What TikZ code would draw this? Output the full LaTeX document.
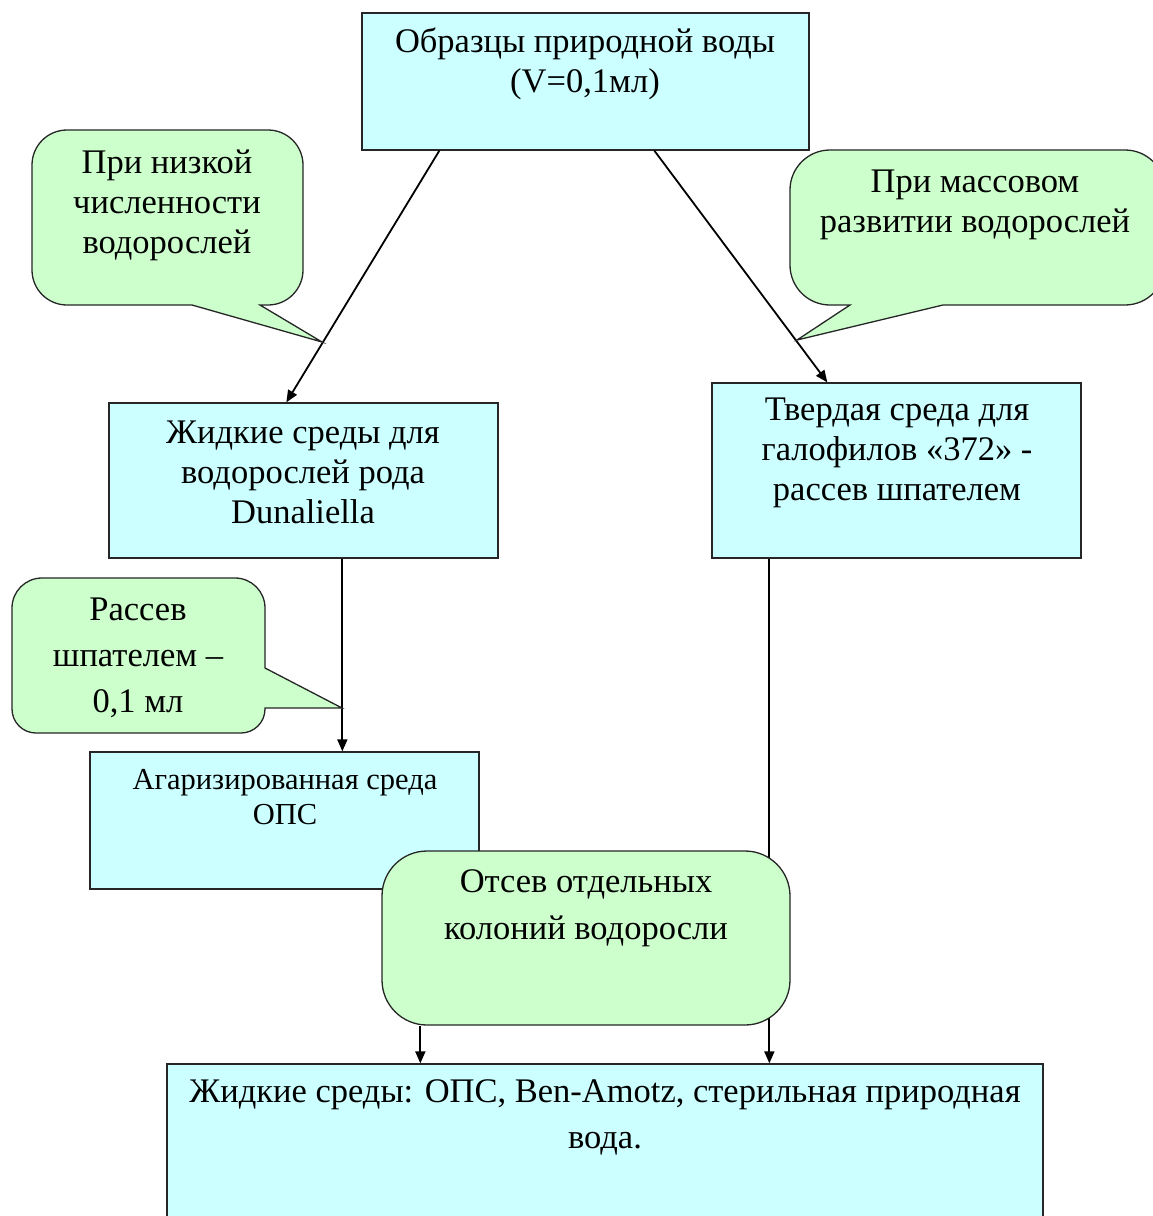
\documentclass[tikz,border=0pt]{standalone}
\usepackage{fontspec}
\setmainfont{Liberation Serif}
\usetikzlibrary{calc,arrows.meta}
\definecolor{boxcyan}{HTML}{CCFFFF}
\definecolor{calgreen}{HTML}{CCFFCC}
\begin{document}
\begin{tikzpicture}[x=1pt,y=-1pt,
  cbox/.style={draw=black!85, fill=boxcyan, line width=1.3pt, inner sep=0pt},
  callout/.style={draw=black!85, fill=calgreen, line width=1.3pt},
  txt/.style={align=center, inner sep=0pt, font=\fontsize{34.5}{40}\selectfont},
  conn/.style={line width=1.8pt, -{Triangle[length=12pt,width=10pt]}},
  plain/.style={line width=1.8pt}]
\clip (0,0) rectangle (1153,1216);
\fill[white] (0,0) rectangle (1153,1216);

% boxes
\node[cbox, minimum width=447pt, minimum height=137pt] (top) at (585.5,81.5) {};
\node[cbox, minimum width=389pt, minimum height=155pt] (lbox) at (303.5,480.5) {};
\node[cbox, minimum width=369pt, minimum height=175pt] (rbox) at (896.5,470.5) {};
\node[cbox, minimum width=389pt, minimum height=137pt] (agar) at (284.5,820.5) {};
\node[cbox, minimum width=876pt, minimum height=166pt] (bot) at (605,1147) {};

% connectors
\coordinate (t1) at ($(top.south west)+(78,0)$);
\coordinate (t2) at ($(top.south west)+(293,0)$);
\draw[conn] (t1) -- ($(lbox.north west)+(178,0)$);
\draw[conn] (t2) -- ($(rbox.north west)+(116,0)$);
\draw[conn] ($(lbox.south west)+(234,0)$) -- ($(agar.north west)+(253,0)$);
\draw[conn] ($(rbox.south west)+(58,0)$) -- ($(bot.north west)+(603,0)$);

% green box (drawn over the right line)
\node[draw=black!85, fill=calgreen, line width=1.3pt, rounded corners=45pt,
      minimum width=408pt, minimum height=174pt] (green) at (586,938) {};
\draw[conn] ($(green.south west)+(39,0)$) -- ($(bot.north west)+(254,0)$);

% callouts
\draw[callout] (32,218) [rounded corners=35pt] -- (32,130) -- (303,130) -- (303,305)
  [sharp corners] -- (260,305) -- (322,342) -- (192,305) [rounded corners=35pt] -- (32,305) -- cycle;
\draw[callout] (790,228) [rounded corners=40pt] -- (790,150) -- (1165,150) -- (1165,305)
  [sharp corners] -- (943,305) -- (797,340) -- (850,305) [rounded corners=40pt] -- (790,305) -- cycle;
\draw[callout] (12,655) [rounded corners=30pt] -- (12,578) -- (265,578)
  [sharp corners] -- (265,668) -- (342,708) -- (265,708) [rounded corners=24pt] -- (265,733) -- (12,733) -- cycle;

% texts
\node[txt] (toptxt) at (585,64) {Образцы природной воды\\(V=0,1мл)};
\node[txt] (c1txt) at (167,205) {При низкой\\численности\\водорослей};
\node[txt] (c2txt) at (975,205) {При массовом\\развитии водорослей};
\node[txt] (ltxt) at (303,472) {Жидкие среды для\\водорослей рода\\Dunaliella};
\node[txt] (rtxt) at (897,453) {Твердая среда для\\галофилов «372» -\\рассев шпателем};
\node[txt, font=\fontsize{34.5}{46}\selectfont] (c3txt) at (138,658) {Рассев\\шпателем –\\0,1 мл};
\node[txt, font=\fontsize{30.5}{35}\selectfont] (agtxt) at (285,797) {Агаризированная среда\\ОПС};
\node[txt, font=\fontsize{34.5}{47}\selectfont] (gtxt) at (586,908) {Отсев отдельных\\колоний водоросли};
\node[txt, font=\fontsize{34.5}{46}\selectfont] (btxt) at (605,1117) {Жидкие среды: ОПС, Ben-Amotz, стерильная природная\\вода.};
\end{tikzpicture}
\end{document}
